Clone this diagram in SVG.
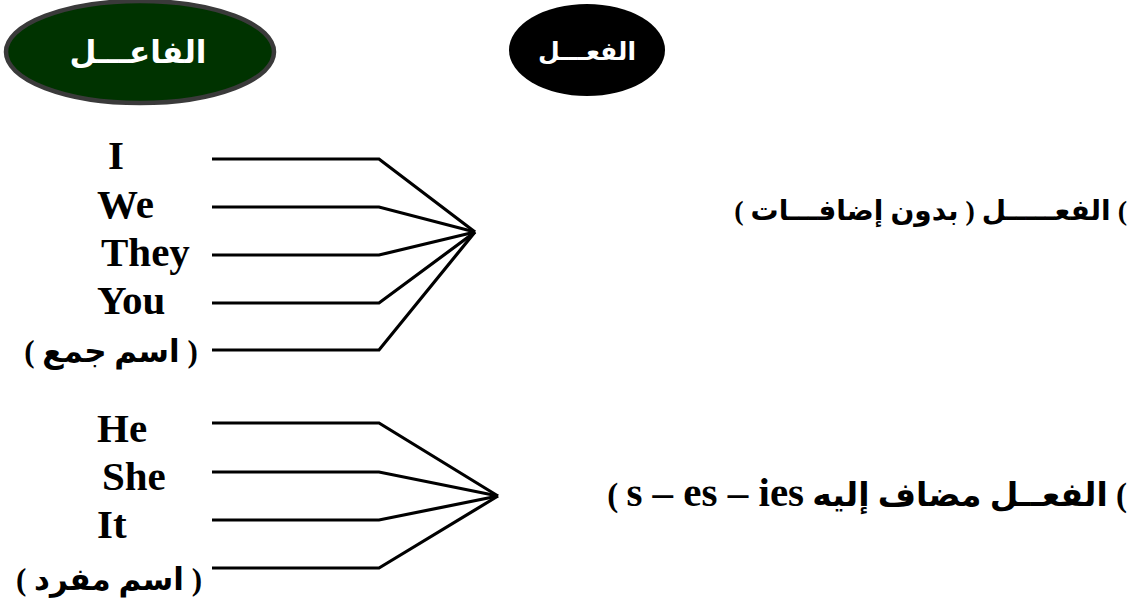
<svg xmlns="http://www.w3.org/2000/svg" width="1144" height="607" viewBox="0 0 1144 607">
<style>
.lat{font-family:"Liberation Serif","Times New Roman",serif;font-weight:bold;font-size:41px;fill:#000}
.ar{font-family:"Liberation Serif","DejaVu Sans",sans-serif;font-weight:bold;font-size:31px;fill:#000}
.hd{font-family:"Liberation Sans","DejaVu Sans",sans-serif;font-weight:bold;font-size:31px;fill:#fff}
.conn polyline{fill:none;stroke:#000;stroke-width:3.2;stroke-linejoin:miter}
</style>
<rect width="1144" height="607" fill="#fff"/>
<g id="node-subject">
<ellipse cx="140" cy="52" rx="134" ry="51" fill="#003300" stroke="#3a3a3a" stroke-width="4.5"/>
<text class="hd" x="138" y="63" text-anchor="middle" direction="rtl">الفاعـــل</text>
</g>
<g id="node-verb">
<ellipse cx="587" cy="50" rx="78" ry="46" fill="#000"/>
<text class="hd" x="587" y="60" text-anchor="middle" direction="rtl" style="font-size:25px">الفعـــل</text>
</g>
<g id="node-plural">
<text class="lat" x="108" y="169">I</text>
<text class="lat" x="97" y="218">We</text>
<text class="lat" x="101" y="266">They</text>
<text class="lat" x="97" y="314">You</text>
<text class="ar" x="111" y="362" text-anchor="middle" direction="rtl">( اسم جمع )</text>
</g>
<g id="node-singular">
<text class="lat" x="97" y="442">He</text>
<text class="lat" x="102" y="490">She</text>
<text class="lat" x="97" y="538">It</text>
<text class="ar" x="109" y="590" text-anchor="middle" direction="rtl">( اسم مفرد )</text>
</g>
<g id="node-verb-bare">
<text class="ar" x="1127" y="220" text-anchor="start" direction="rtl" style="font-size:28px">) الفعـــــل ( بدون إضافـــات )</text>
</g>
<g id="node-verb-s">
<text class="ar" x="1127" y="506" text-anchor="start" direction="rtl" style="font-size:33px">) الفعــل مضاف إليه <tspan style="font-size:41px">s – es – ies</tspan> )</text>
</g>
<g id="connectors" class="conn">
<polyline points="212,159 379,159 475,232"/>
<polyline points="212,207 379,207 475,232"/>
<polyline points="212,255 379,255 475,232"/>
<polyline points="212,303 379,303 475,232"/>
<polyline points="212,350 379,350 475,232"/>
<polyline points="212,423 379,423 498,496"/>
<polyline points="212,472 379,472 498,496"/>
<polyline points="212,520 379,520 498,496"/>
<polyline points="212,568 379,568 498,496"/>
</g>
</svg>
